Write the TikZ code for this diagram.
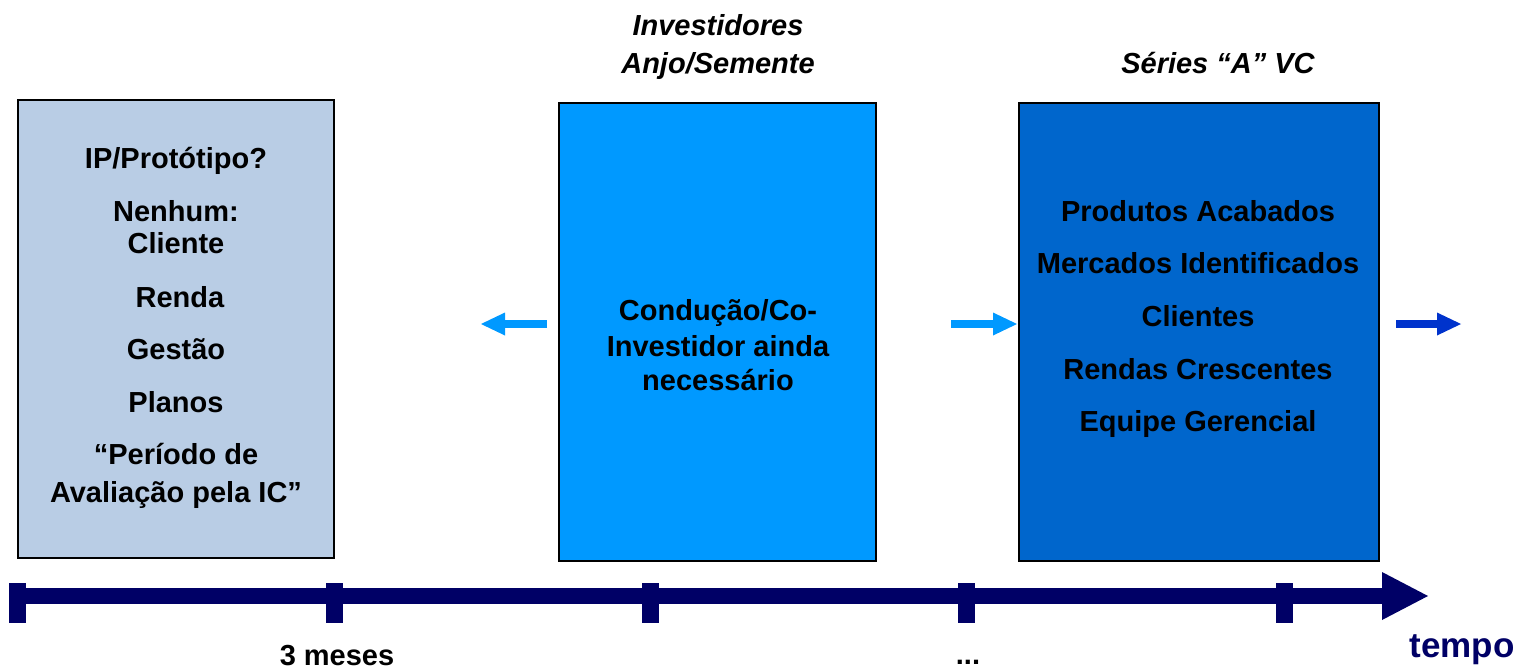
\documentclass[tikz,border=0pt]{standalone}
\usepackage{fontspec}
\setmainfont{Liberation Sans}
\definecolor{navy}{RGB}{0,0,102}
\definecolor{boxa}{RGB}{185,205,229}
\definecolor{boxb}{RGB}{0,153,255}
\definecolor{boxc}{RGB}{0,102,204}
\definecolor{arrc}{RGB}{0,51,204}
\begin{document}
\begin{tikzpicture}[x=0.5pt,y=-0.5pt,
  txt/.style={font=\fontsize{14.5}{17}\selectfont\bfseries, inner sep=0, anchor=base},
  hdr/.style={font=\fontsize{14.5}{17}\selectfont\bfseries\itshape, inner sep=0, anchor=base},
  box/.style={draw=black, line width=1pt, inner sep=0},
  bluearrow/.style={line width=4pt},
  tick/.style={navy, line width=8.5pt}]
\useasboundingbox (0,0) rectangle (1521,669);
% boxes
\node[box, fill=boxa, minimum width=158pt, minimum height=229pt] (b1) at (176,329) {};
\node[box, fill=boxb, minimum width=158.5pt, minimum height=229pt] (b2) at (717.5,332) {};
\node[box, fill=boxc, minimum width=180pt, minimum height=229pt] (b3) at (1199,332) {};
% headers
\node[hdr] (h1) at (718,35) {Investidores};
\node[hdr] (h2) at (718,73) {Anjo/Semente};
\node[hdr] (h3) at (1218,73) {Séries “A” VC};
% box 1 text
\node[txt] (a1) at (176,168) {IP/Protótipo?};
\node[txt] (a2) at (176,221) {Nenhum:};
\node[txt] (a3) at (176,253) {Cliente};
\node[txt] (a4) at (180,307) {Renda};
\node[txt] (a5) at (176,359) {Gestão};
\node[txt] (a6) at (176,412) {Planos};
\node[txt] (a7) at (176,464) {“Período de};
\node[txt] (a8) at (176,502) {Avaliação pela IC”};
% box 2 text
\node[txt] (m1) at (718,320) {Condução/Co-};
\node[txt] (m2) at (718,356) {Investidor ainda};
\node[txt] (m3) at (718,390) {necessário};
% box 3 text
\node[txt] (c1) at (1198,221) {Produtos Acabados};
\node[txt] (c2) at (1198,273) {Mercados Identificados};
\node[txt] (c3) at (1198,326) {Clientes};
\node[txt] (c4) at (1198,379) {Rendas Crescentes};
\node[txt] (c5) at (1198,431) {Equipe Gerencial};
% side arrows
\coordinate (l1s) at (547,324); \coordinate (l1b) at (505,324); \coordinate (l1t) at (481,324);
\draw[bluearrow, boxb] (l1s) -- (l1b);
\fill[boxb] (l1t) -- ([yshift=-5.75pt]l1b) -- ([yshift=5.75pt]l1b) -- cycle;
\coordinate (r1s) at (951,324); \coordinate (r1b) at (993,324); \coordinate (r1t) at (1017,324);
\draw[bluearrow, boxb] (r1s) -- (r1b);
\fill[boxb] (r1t) -- ([yshift=-5.75pt]r1b) -- ([yshift=5.75pt]r1b) -- cycle;
\coordinate (r2s) at (1396,324); \coordinate (r2b) at (1437,324); \coordinate (r2t) at (1461,324);
\draw[bluearrow, arrc] (r2s) -- (r2b);
\fill[arrc] (r2t) -- ([yshift=-5.75pt]r2b) -- ([yshift=5.75pt]r2b) -- cycle;
% timeline
\coordinate (t0) at (9,596); \coordinate (tb) at (1382,596); \coordinate (tt) at (1428,596);
\draw[navy, line width=8pt] (t0) -- (tb);
\fill[navy] (tt) -- ([yshift=-12pt]tb) -- ([yshift=12pt]tb) -- cycle;
\foreach \x/\n in {17.5/k0,334.5/k1,650/k2,966/k3,1284/k4}{
  \coordinate (\n a) at (\x,583); \coordinate (\n b) at (\x,623);
  \draw[tick] (\n a) -- (\n b);
}
\node[txt] (l3) at (337,665) {3 meses};
\node[txt] (ld) at (968,664) {...};
\node[txt, navy, font=\fontsize{17.5}{20}\selectfont\bfseries] (lt) at (1462,657) {tempo};
\end{tikzpicture}
\end{document}
